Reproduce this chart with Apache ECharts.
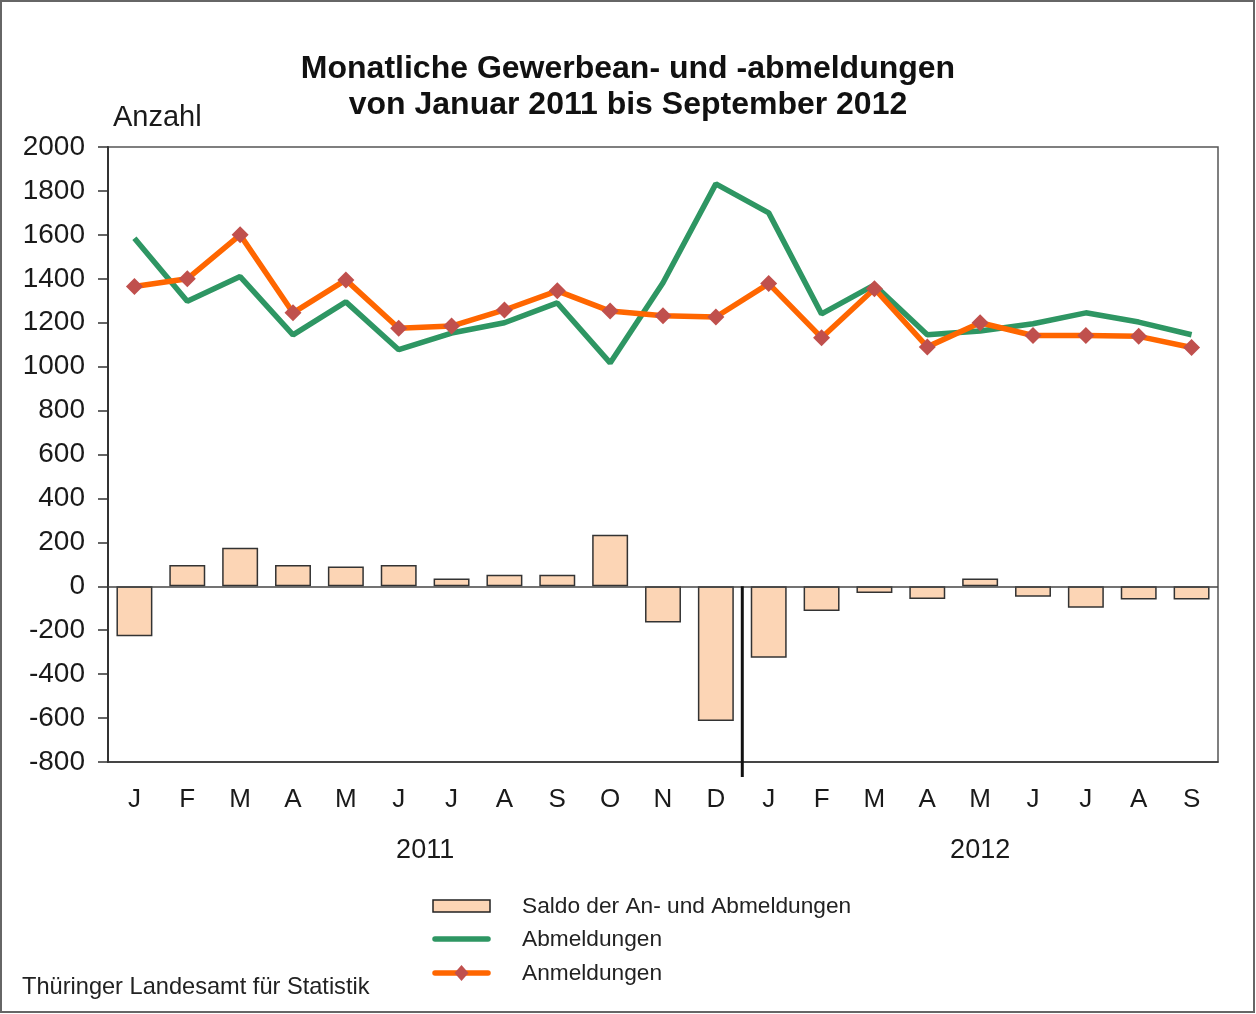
<!DOCTYPE html>
<html>
<head>
<meta charset="utf-8">
<script src="https://cdn.jsdelivr.net/npm/echarts@6/dist/echarts.min.js"></script>
<style>
  html, body { margin: 0; padding: 0; background: #fff; }
  #main { width: 1256px; height: 1014px; }
</style>
</head>
<body>
<div id="main"></div>
<script>
const months = ["J", "F", "M", "A", "M", "J", "J", "A", "S", "O", "N", "D",
                "J", "F", "M", "A", "M", "J", "J", "A", "S"];
const years = ["2011", "2012"];
const yearStart = [0, 12];
const yearEnd = [11, 20];

const anmeldungen = [1365, 1400, 1600, 1245, 1395, 1175, 1185, 1258, 1345, 1253, 1232, 1226,
                     1378, 1132, 1355, 1090, 1200, 1142, 1142, 1138, 1087];
const abmeldungen = [1585, 1298, 1410, 1145, 1295, 1077, 1153, 1200, 1290, 1017, 1382, 1832,
                     1700, 1240, 1372, 1145, 1162, 1195, 1245, 1203, 1145];
const saldo = [-228, 97, 175, 97, 90, 97, 35, 52, 52, 235, -165, -613,
               -325, -112, -30, -58, 35, -48, -98, -60, -60];

const yTicks = { min: -800, max: 2000, interval: 200 };

const legendNames = ["Saldo der An- und Abmeldungen", "Abmeldungen", "Anmeldungen"];

const chart = echarts.init(document.getElementById("main"), null, { renderer: "canvas" });
const font = "Liberation Sans, Arial, sans-serif";
const green = "#2E9663";
const orange = "#FF6600";
const marker = "#C0504D";
const barFill = "#FCD5B5";

const option = {
  backgroundColor: "#fff",
  animation: false,
  textStyle: { fontFamily: font, color: "#1a1a1a" },
  title: {
    text: "Monatliche Gewerbean- und -abmeldungen\nvon Januar 2011 bis September 2012",
    left: "center",
    top: 46,
    textStyle: { fontSize: 32, fontWeight: "bold", lineHeight: 36, color: "#111", fontFamily: font },
  },
  grid: {
    left: 108,
    right: 38,
    top: 147,
    bottom: 252,
    show: true,
    borderColor: "#555",
    borderWidth: 1.5,
  },
  xAxis: {
    type: "category",
    data: months,
    axisLine: { onZero: false, show: true, lineStyle: { color: "#333", width: 1.5 } },
    axisTick: { show: false },
    axisLabel: { fontSize: 26, color: "#1a1a1a", margin: 25, fontFamily: font },
    splitLine: { show: false },
  },
  yAxis: {
    type: "value",
    min: yTicks.min,
    max: yTicks.max,
    interval: yTicks.interval,
    name: "Anzahl",
    nameLocation: "end",
    nameGap: 15,
    nameTextStyle: { fontSize: 29, color: "#1a1a1a", align: "left", padding: [0, 0, 0, 5], fontFamily: font },
    axisLine: { show: true, lineStyle: { color: "#333", width: 2 } },
    axisTick: { show: true, length: 10, lineStyle: { color: "#333", width: 1.5 } },
    axisLabel: { fontSize: 28, color: "#1a1a1a", margin: 23, fontFamily: font, formatter: (v) => String(v) },
    splitLine: { show: false },
  },
  series: [
    {
      name: legendNames[0],
      type: "bar",
      data: saldo,
      barCategoryGap: "32%",
      itemStyle: { color: barFill, borderColor: "#333", borderWidth: 1.5 },
      markLine: {
        silent: true,
        symbol: "none",
        label: { show: false },
        lineStyle: { color: "#444", width: 1.5, type: "solid" },
        data: [{ yAxis: 0 }],
      },
      z: 1,
    },
    {
      name: legendNames[1],
      type: "line",
      data: abmeldungen,
      symbol: "none",
      lineStyle: { color: green, width: 5.5 },
      itemStyle: { color: green },
      z: 3,
    },
    {
      name: legendNames[2],
      type: "line",
      data: anmeldungen,
      symbol: "diamond",
      symbolSize: 17,
      lineStyle: { color: orange, width: 5.5 },
      itemStyle: { color: marker },
      z: 4,
    },
  ],
};

chart.setOption(option);

// year labels, separator, legend, source, frame
const graphics = [];
const x0 = chart.convertToPixel({ xAxisIndex: 0 }, 0);
const x1 = chart.convertToPixel({ xAxisIndex: 0 }, 1);
const step = x1 - x0;
const yZero = chart.convertToPixel({ yAxisIndex: 0 }, 0);
const yBottom = chart.convertToPixel({ yAxisIndex: 0 }, yTicks.min);

years.forEach((yr, i) => {
  const xa = chart.convertToPixel({ xAxisIndex: 0 }, yearStart[i]);
  const xb = chart.convertToPixel({ xAxisIndex: 0 }, yearEnd[i]);
  graphics.push({
    type: "text",
    x: (xa + xb) / 2,
    y: 851,
    style: { text: yr, font: "27px " + font, fill: "#1a1a1a", align: "center", verticalAlign: "middle" },
  });
});

const sepX = chart.convertToPixel({ xAxisIndex: 0 }, yearEnd[0]) + step / 2;
graphics.push({
  type: "line",
  shape: { x1: sepX, y1: yZero, x2: sepX, y2: yBottom + 15 },
  style: { stroke: "#111", lineWidth: 3 },
  z: 10,
});

// legend
const legX = 433, legW = 57, textX = 522;
const legY = [906, 939, 973];
graphics.push({
  type: "rect",
  shape: { x: legX, y: legY[0] - 6, width: legW, height: 12 },
  style: { fill: barFill, stroke: "#222", lineWidth: 1.5 },
});
graphics.push({
  type: "line",
  shape: { x1: legX + 2, y1: legY[1], x2: legX + legW - 2, y2: legY[1] },
  style: { stroke: green, lineWidth: 5.5, lineCap: "round" },
});
graphics.push({
  type: "line",
  shape: { x1: legX + 2, y1: legY[2], x2: legX + legW - 2, y2: legY[2] },
  style: { stroke: orange, lineWidth: 5.5, lineCap: "round" },
});
graphics.push({
  type: "polygon",
  shape: { points: [[legX + legW / 2, legY[2] - 8], [legX + legW / 2 + 7, legY[2]], [legX + legW / 2, legY[2] + 8], [legX + legW / 2 - 7, legY[2]]] },
  style: { fill: marker },
});
legendNames.forEach((n, i) => {
  graphics.push({
    type: "text",
    x: textX,
    y: legY[i] + 1,
    style: { text: n, font: "22.7px " + font, fill: "#222", verticalAlign: "middle" },
  });
});

graphics.push({
  type: "text",
  x: 22,
  y: 987,
  style: { text: "Thüringer Landesamt für Statistik", font: "23.6px " + font, fill: "#222", verticalAlign: "middle" },
});

graphics.push({
  type: "rect",
  shape: { x: 1, y: 1, width: 1253, height: 1011 },
  style: { fill: "none", stroke: "#666", lineWidth: 2 },
  silent: true,
});

chart.setOption({ graphic: graphics });
</script>
</body>
</html>
